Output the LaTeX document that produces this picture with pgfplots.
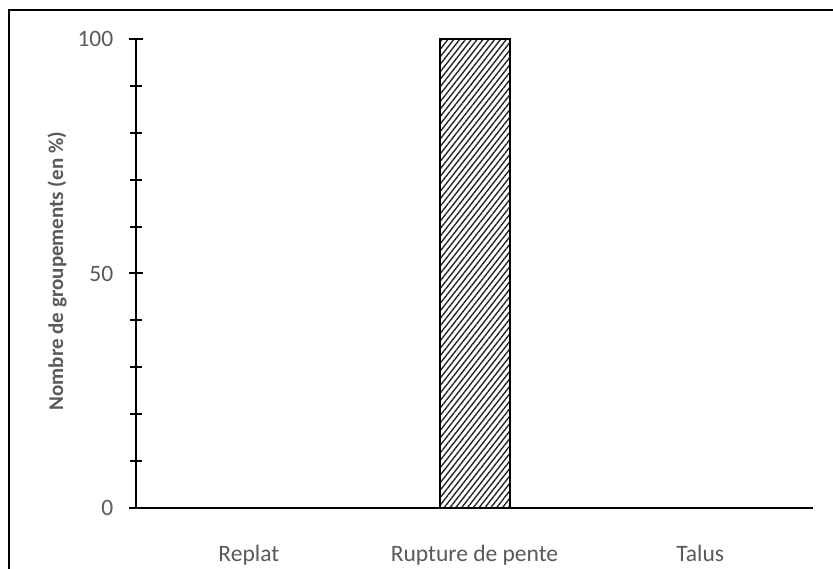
\documentclass[border=0pt]{standalone}
\usepackage{fontspec}
\setmainfont{Carlito}
\usepackage{pgfplots}
\pgfplotsset{compat=1.18}
\usetikzlibrary{patterns.meta}
\definecolor{txt}{HTML}{595959}
\begin{document}
\begin{tikzpicture}[x=1pt,y=1pt]
\useasboundingbox (0,0) rectangle (833,568);
\clip (0,0) rectangle (833,568);
\draw[line width=1.6pt, black] (9,-20) rectangle (860,558);
\begin{axis}[
  at={(136pt,60pt)}, anchor=south west,
  scale only axis, width=677pt, height=469pt,
  xmin=-0.5, xmax=2.5, ymin=0, ymax=100,
  axis x line=bottom, axis y line=left,
  axis line style={-, line width=2pt, black},
  xtick={0,1,2}, xticklabels={Replat, Rupture de pente, Talus},
  xtick style={draw=none}, major x tick style={draw=none},
  ytick={0,50,100}, minor ytick={10,20,30,40,60,70,80,90},
  tick align=center,
  major tick length=13pt, minor tick length=12pt,
  ytick style={line width=2pt, black},
  minor tick style={line width=1.6pt, black},
  /pgf/number format/assume math mode=true,
  tick label style={font=\fontsize{23.5}{28}\selectfont, text=txt, inner sep=0pt},
  yticklabel style={anchor=east, xshift=-16pt},
  xticklabel style={anchor=base, yshift=-40pt},
  ylabel={Nombre de groupements (en \%)},
  ylabel style={at={(axis description cs:-0.1167,0.505)}, anchor=center, rotate=0,
    font=\fontsize{21}{25}\bfseries, text=txt},
  clip=false,
  ybar, bar width=70pt,
]
\addplot[draw=black, line width=2pt, fill=white,
  postaction={pattern={Lines[angle=52, distance=4.6pt, line width=1.4pt]}, pattern color=black!85}]
  coordinates {(1,100)};
\end{axis}
\end{tikzpicture}
\end{document}
